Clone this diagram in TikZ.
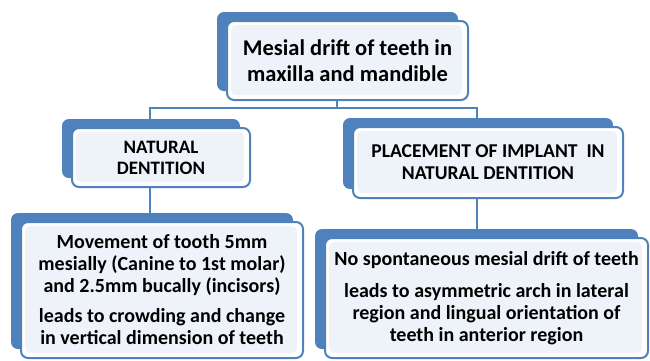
\documentclass[tikz,border=0pt]{standalone}
\usepackage{fontspec}
\setmainfont{Carlito}
\usetikzlibrary{calc}
\definecolor{bblue}{HTML}{4F81BD}
\definecolor{innerfill}{HTML}{EEF3FA}
\pgfdeclarelayer{connl}
\pgfdeclarelayer{backl}
\pgfsetlayers{connl,backl,main}
\tikzset{
  front/.style={draw=bblue, line width=2pt, rounded corners=7pt, fill=white,
    align=center, inner sep=0pt,
    path picture={\fill[innerfill, rounded corners=5pt]
      ([shift={(4pt,5pt)}]path picture bounding box.south west) rectangle
      ([shift={(-6pt,-4pt)}]path picture bounding box.north east);}},
  backbox/.style={fill=bblue, rounded corners=7pt},
  conn/.style={draw=bblue, line width=2pt},
  ftop/.style={font=\bfseries\fontsize{22.5}{26}\selectfont},
  fmid/.style={font=\bfseries\fontsize{19}{21}\selectfont},
  fmidb/.style={font=\bfseries\fontsize{19.6}{22}\selectfont},
  fbot/.style={font=\bfseries\fontsize{20}{22}\selectfont},
}
\begin{document}
\begin{tikzpicture}[x=1pt,y=-1pt]
\useasboundingbox (0,0) rectangle (650,360);
% front boxes
\node[front, ftop, minimum width=241pt, minimum height=79pt] (top) at (347.5,60.5)
  {Mesial drift of teeth in\\maxilla and mandible};
\node[front, fmid, minimum width=178pt, minimum height=59pt] (nat) at (161,157.5)
  {NATURAL\\DENTITION};
\node[front, fmidb, minimum width=270pt, minimum height=71pt] (plc) at (488,162.5)
  {PLACEMENT OF IMPLANT\ \ IN\\NATURAL DENTITION};
\node[front, fbot, minimum width=282pt, minimum height=136pt] (bl) at (162,290)
  {Movement of tooth 5mm\\mesially (Canine to 1st molar)\\and 2.5mm bucally (incisors)\\[8pt]leads to crowding and change\\in vertical dimension of teeth};
\node[front, fbot, minimum width=323pt, minimum height=120pt] (br) at (486.5,298)
  {No spontaneous mesial drift of teeth\\[10pt]leads to asymmetric arch in lateral\\region and lingual orientation of\\teeth in anterior region};
% back boxes
\begin{pgfonlayer}{backl}
\foreach \b in {top,nat,plc,bl,br}{
  \fill[backbox] ($(\b.south west)+(-9,-10)$) rectangle ($(\b.north east)+(-11,-8)$);
}
\end{pgfonlayer}
% connectors
\coordinate (j) at (337,108);
\coordinate (jl) at (150,108);
\coordinate (jr) at (477,108);
\begin{pgfonlayer}{connl}
\draw[conn] (j |- top.south) -- (j);
\draw[conn] (jl |- nat.north) -- (jl) -- (jr) -- (jr |- plc.north);
\draw[conn] (jl |- nat.south) -- (jl |- bl.north);
\draw[conn] (jr |- plc.south) -- (jr |- br.north);
\end{pgfonlayer}
\end{tikzpicture}
\end{document}
